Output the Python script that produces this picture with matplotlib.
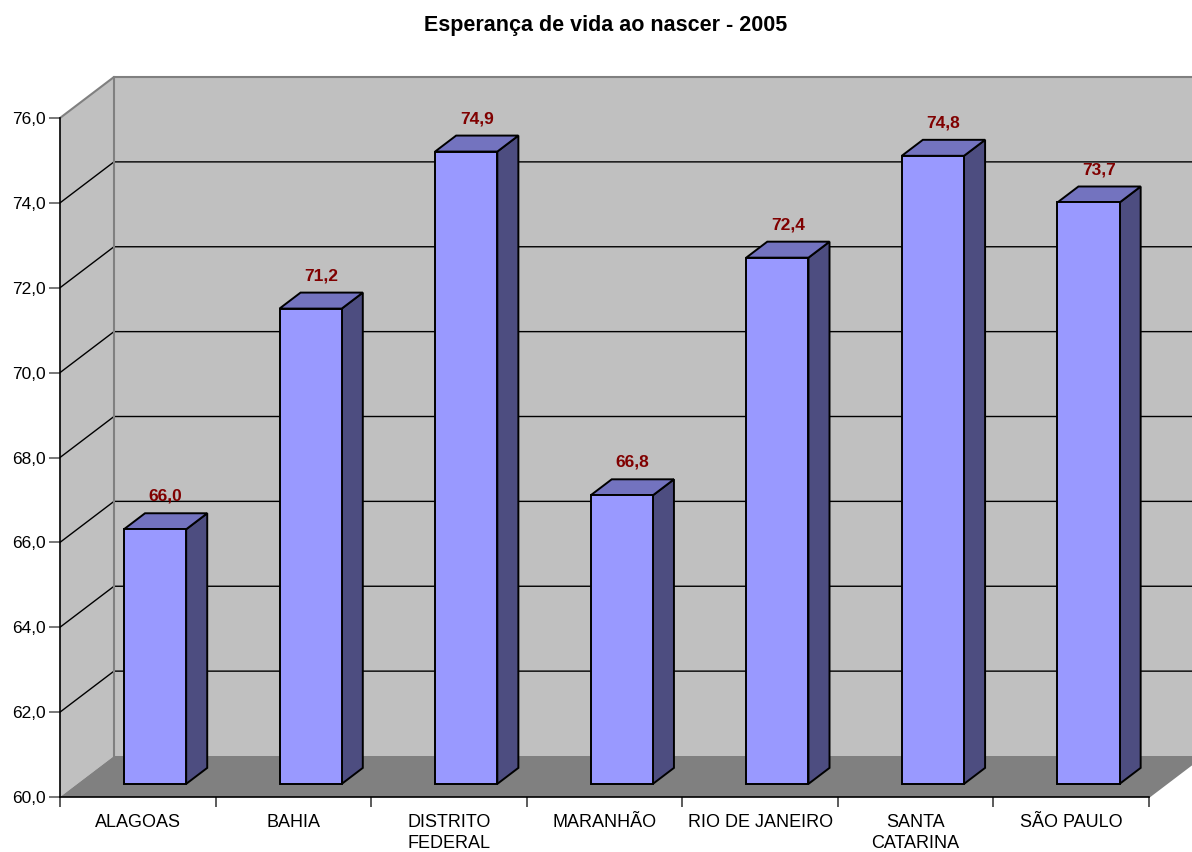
import matplotlib
matplotlib.use("Agg")
import matplotlib.pyplot as plt
from matplotlib.patches import Polygon

plt.rcParams["font.family"] = ["Liberation Sans", "DejaVu Sans"]

# Esperança de vida ao nascer por estado, 2005
estados = ["ALAGOAS", "BAHIA", "DISTRITO\nFEDERAL", "MARANHÃO",
           "RIO DE JANEIRO", "SANTA\nCATARINA", "SÃO PAULO"]
esperanca = [66.0, 71.2, 74.9, 66.8, 72.4, 74.8, 73.7]
y_ticks = [60, 62, 64, 66, 68, 70, 72, 74, 76]

Y_MIN, Y_MAX = 60, 76
# depth vector of the 3D box (in data units), and bar depth range
DX, DY = 0.347, 0.966
D0, D1 = 0.32, 0.71
BAR_W = 0.4

FRONT = "#9999ff"
SIDE = "#4d4d80"
TOP = "#7373bf"
WALL = "#c0c0c0"
FLOOR = "#808080"
EDGE = "#808080"


def proj(x, y, d):
    return (x + d * DX, y + d * DY)


fig = plt.figure(figsize=(11.92, 8.52), dpi=100)
ax = fig.add_axes([60 / 1192, 55 / 852, 1089 / 1192, 679 / 852])
n = len(estados)
ax.set_xlim(0, n)
ax.set_ylim(Y_MIN, Y_MAX)
ax.patch.set_visible(False)

# back wall, left wall and floor
back = [proj(0, Y_MIN, 1), proj(n + 0.2, Y_MIN, 1), proj(n + 0.2, Y_MAX, 1), proj(0, Y_MAX, 1)]
ax.add_patch(Polygon(back, closed=True, fc=WALL, ec="none", clip_on=False, zorder=0))
side = [(0, Y_MIN), proj(0, Y_MIN, 1), proj(0, Y_MAX, 1), (0, Y_MAX)]
ax.add_patch(Polygon(side, closed=True, fc=WALL, ec="none", clip_on=False, zorder=0))
floor = [(0, Y_MIN), (n, Y_MIN), proj(n, Y_MIN, 1), proj(0, Y_MIN, 1)]
ax.add_patch(Polygon(floor, closed=True, fc=FLOOR, ec="none", clip_on=False, zorder=0.5))

# gridlines on the walls
for t in y_ticks[1:-1]:
    p0, p1 = proj(0, t, 1), proj(n + 0.2, t, 1)
    ax.plot([0, p0[0], p1[0]], [t, p0[1], p1[1]], color="black", lw=1.0,
            clip_on=False, zorder=1)

# wall edges
p_top = proj(0, Y_MAX, 1)
ax.plot([0, p_top[0], n + 0.5], [Y_MAX, p_top[1], p_top[1]], color=EDGE, lw=1.5,
        clip_on=False, zorder=1)
p_bot = proj(0, Y_MIN, 1)
ax.plot([p_top[0], p_bot[0]], [p_top[1], p_bot[1]], color=EDGE, lw=1.5,
        clip_on=False, zorder=1)
p_r = proj(n, Y_MIN, 1)
ax.plot([n, p_r[0]], [Y_MIN, p_r[1]], color=EDGE, lw=1.2, clip_on=False, zorder=1)

# bars
for i, v in enumerate(esperanca):
    x0 = i + 0.5 - BAR_W / 2
    x1 = i + 0.5 + BAR_W / 2
    front = [proj(x0, Y_MIN, D0), proj(x1, Y_MIN, D0), proj(x1, v, D0), proj(x0, v, D0)]
    right = [proj(x1, Y_MIN, D0), proj(x1, Y_MIN, D1), proj(x1, v, D1), proj(x1, v, D0)]
    top = [proj(x0, v, D0), proj(x1, v, D0), proj(x1, v, D1), proj(x0, v, D1)]
    for poly, c in ((right, SIDE), (top, TOP), (front, FRONT)):
        ax.add_patch(Polygon(poly, closed=True, fc=c, ec="black", lw=1.4,
                             joinstyle="miter", clip_on=False, zorder=3))
    lx, _ = proj(i + 0.5, v, (D0 + D1) / 2)
    _, ly = proj(i + 0.5, v, D1)
    ax.annotate(f"{v:.1f}".replace(".", ","), (lx, ly), xytext=(0, 9),
                textcoords="offset points", ha="center", va="baseline",
                fontsize=12.5, fontweight="bold", color="#800000",
                annotation_clip=False, zorder=4)

# axes: front edges only
for s in ("top", "right"):
    ax.spines[s].set_visible(False)
for s in ("left", "bottom"):
    ax.spines[s].set_color("black")
    ax.spines[s].set_linewidth(1.2)
    ax.spines[s].set_zorder(2)

ax.set_yticks(y_ticks)
ax.set_yticklabels([f"{t:.1f}".replace(".", ",") for t in y_ticks])
ax.tick_params(axis="y", direction="out", length=8, width=1.2, color="#606060",
               pad=2, labelsize=12.5)

ax.set_xticks(range(n + 1))
ax.set_xticklabels([])
ax.tick_params(axis="x", which="major", direction="out", length=7.5, width=1.2,
               color="#404040")
ax.set_xticks([i + 0.5 for i in range(n)], minor=True)
ax.set_xticklabels(estados, minor=True, fontsize=13, linespacing=1.35)
ax.tick_params(axis="x", which="minor", length=0, pad=12)

fig.text(606 / 1192, 1 - 25 / 852, "Esperança de vida ao nascer - 2005",
         ha="center", va="center", fontsize=15.5, fontweight="bold")

fig.savefig("out.png", dpi=100)
